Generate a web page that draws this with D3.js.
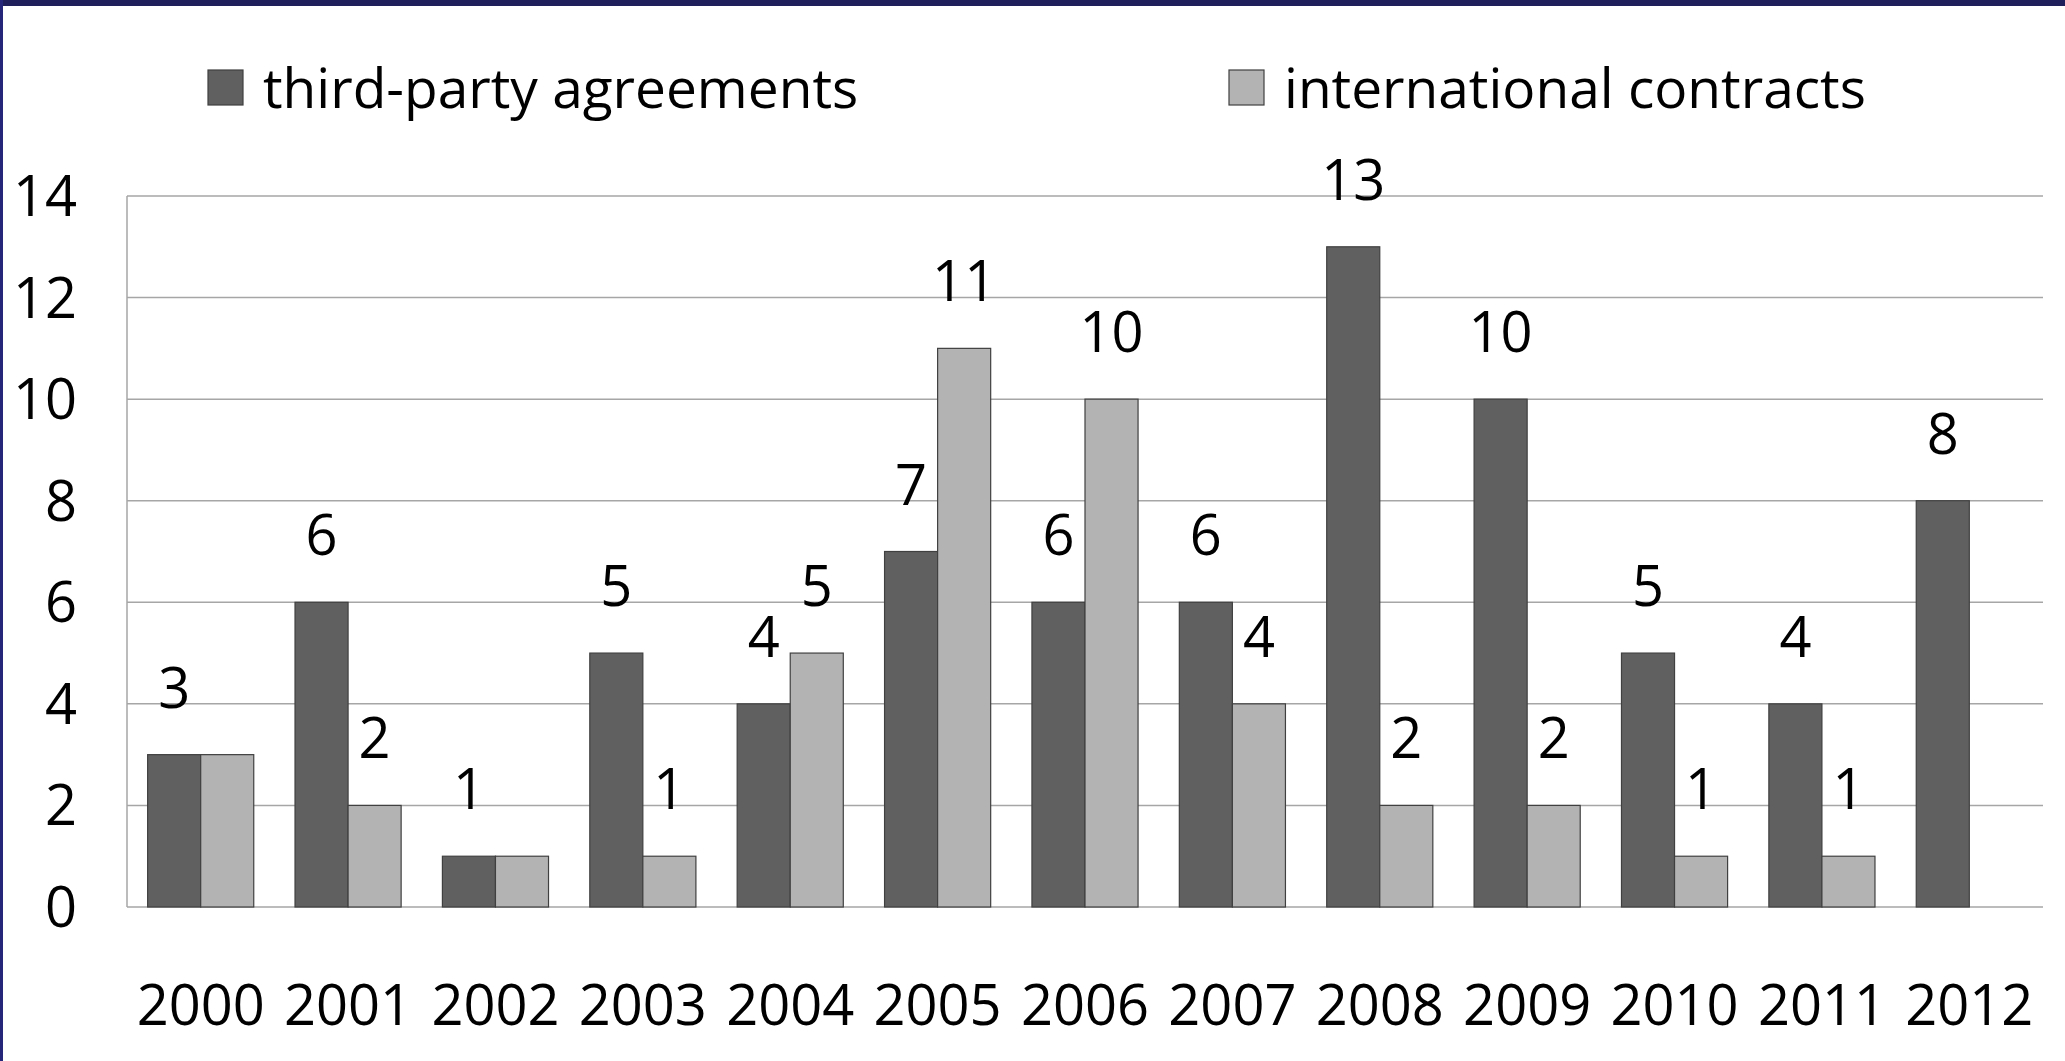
<!DOCTYPE html>
<html>
<head>
<meta charset="utf-8">
<script src="https://cdn.jsdelivr.net/npm/d3@7"></script>
<style>
  html, body { margin: 0; padding: 0; background: #fff; }
  svg { display: block; }
  text { font-family: "Open Sans", sans-serif; fill: #000; }
</style>
</head>
<body>
<div id="viz"></div>
<script>
// frame size
const F_WIDTH = 2065;
const F_HEIGHT = 1061;
const MARGINS = {left: 127, right: 22, top: 196, bottom: 154};

// data
const YEARS = ["2000", "2001", "2002", "2003", "2004", "2005", "2006",
               "2007", "2008", "2009", "2010", "2011", "2012"];
const THIRD_PARTY = [3, 6, 1, 5, 4, 7, 6, 6, 13, 10, 5, 4, 8];
const INTERNATIONAL = [3, 2, 1, 1, 5, 11, 10, 4, 2, 2, 1, 1, 0];
const SERIES_NAMES = ["third-party agreements", "international contracts"];
const Y_TICKS = [0, 2, 4, 6, 8, 10, 12, 14];
const COLORS = ["#606060", "#b3b3b3"];

const FRAME = d3.select("#viz")
  .append("svg")
    .attr("width", F_WIDTH)
    .attr("height", F_HEIGHT);

// navy frame edges
FRAME.append("rect").attr("x", 0).attr("y", 0).attr("width", F_WIDTH).attr("height", 6).attr("fill", "#1f1f5c");
FRAME.append("rect").attr("x", 0).attr("y", 0).attr("width", 3).attr("height", F_HEIGHT).attr("fill", "#25257a");

const X_SCALE = d3.scaleBand()
  .domain(YEARS)
  .range([MARGINS.left, F_WIDTH - MARGINS.right])
  .paddingInner(0.28)
  .paddingOuter(0.14);

const X_INNER = d3.scaleBand()
  .domain([0, 1])
  .range([0, X_SCALE.bandwidth()]);

const Y_SCALE = d3.scaleLinear()
  .domain([0, 14])
  .range([F_HEIGHT - MARGINS.bottom, MARGINS.top]);

// gridlines
FRAME.append("g")
  .selectAll("line")
  .data(Y_TICKS)
  .enter()
  .append("line")
    .attr("x1", MARGINS.left)
    .attr("x2", F_WIDTH - MARGINS.right)
    .attr("y1", d => Y_SCALE(d))
    .attr("y2", d => Y_SCALE(d))
    .attr("stroke", "#a6a6a6")
    .attr("stroke-width", 1.5);

// left axis line
FRAME.append("line")
  .attr("x1", MARGINS.left).attr("x2", MARGINS.left)
  .attr("y1", Y_SCALE(14)).attr("y2", Y_SCALE(0))
  .attr("stroke", "#a6a6a6")
  .attr("stroke-width", 1.5);

// y tick labels
FRAME.append("g")
  .selectAll("text")
  .data(Y_TICKS)
  .enter()
  .append("text")
    .attr("x", 77)
    .attr("y", d => Y_SCALE(d) + 20)
    .attr("text-anchor", "end")
    .style("font-size", "56px")
    .text(d => d);

// x tick labels
FRAME.append("g")
  .selectAll("text")
  .data(YEARS)
  .enter()
  .append("text")
    .attr("x", d => X_SCALE(d) + X_SCALE.bandwidth() / 2)
    .attr("y", 1025)
    .attr("text-anchor", "middle")
    .style("font-size", "56px")
    .text(d => d);

// bars
const SERIES = [THIRD_PARTY, INTERNATIONAL];
SERIES.forEach((vals, s) => {
  const rows = YEARS.map((y, i) => ({year: y, value: vals[i], other: SERIES[1 - s][i]}));

  FRAME.append("g")
    .selectAll("rect")
    .data(rows.filter(d => d.value > 0))
    .enter()
    .append("rect")
      .attr("x", d => X_SCALE(d.year) + X_INNER(s))
      .attr("y", d => Y_SCALE(d.value))
      .attr("width", X_INNER.bandwidth())
      .attr("height", d => Y_SCALE(0) - Y_SCALE(d.value))
      .attr("fill", COLORS[s])
      .attr("stroke", "#404040")
      .attr("stroke-width", 1.2);

  // value labels (the second one is hidden when it would sit on the first)
  FRAME.append("g")
    .selectAll("text")
    .data(rows.filter(d => d.value > 0 && !(s === 1 && d.value === d.other)))
    .enter()
    .append("text")
      .attr("x", d => X_SCALE(d.year) + X_INNER(s) + X_INNER.bandwidth() / 2)
      .attr("y", d => Y_SCALE(d.value) - 47)
      .attr("text-anchor", "middle")
      .style("font-size", "56px")
      .text(d => d.value);
});

// legend
const LEGEND_X = [208, 1229];
SERIES_NAMES.forEach((name, s) => {
  FRAME.append("rect")
    .attr("x", LEGEND_X[s]).attr("y", 70)
    .attr("width", 35).attr("height", 35)
    .attr("fill", COLORS[s])
    .attr("stroke", "#404040")
    .attr("stroke-width", 1.2);
  FRAME.append("text")
    .attr("x", LEGEND_X[s] + 55)
    .attr("y", 108)
    .style("font-size", "55px")
    .text(name);
});
</script>
</body>
</html>
